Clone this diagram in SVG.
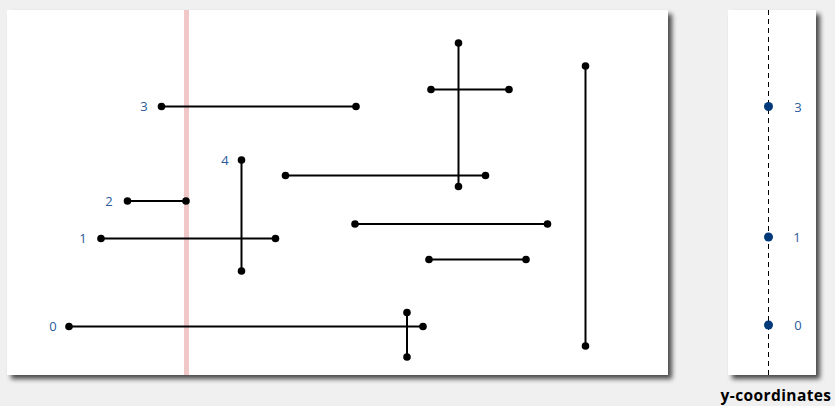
<svg xmlns="http://www.w3.org/2000/svg" width="835" height="406" viewBox="0 0 835 406">
<style>
.panel{fill:#ffffff}
.seg{stroke:#000;stroke-width:2;fill:none}
.pt{fill:#000}
.lbl{font-family:"Open Sans","Liberation Sans",sans-serif;font-size:13px;fill:#2a5b9b;text-anchor:middle}
.ydot{fill:#003a7a}
.cap{font-family:"Open Sans","Liberation Sans",sans-serif;font-size:15.5px;font-weight:bold;fill:#000;text-anchor:middle;letter-spacing:0.4px}
</style>
<defs>
<filter id="sh" x="-5%" y="-5%" width="115%" height="115%">
<feGaussianBlur in="SourceAlpha" stdDeviation="2.5"/>
<feOffset dx="4" dy="4" result="b"/>
<feComponentTransfer><feFuncA type="linear" slope="0.7"/></feComponentTransfer>
<feMerge><feMergeNode/><feMergeNode in="SourceGraphic"/></feMerge>
</filter>
</defs>
<rect x="0" y="0" width="835" height="406" fill="#f0f0f0"/>
<g id="left-panel">
<rect class="panel" x="7" y="10" width="661" height="365" filter="url(#sh)"/>
<rect x="184" y="10" width="5" height="365" fill="#f0c8c8"/>
</g>
<g id="right-panel">
<rect class="panel" x="728" y="10" width="88" height="365" filter="url(#sh)"/>
<line x1="768.5" y1="10" x2="768.5" y2="375" stroke="#000" stroke-width="1" stroke-dasharray="5,4"/>
</g>
<g id="connectors">
<line class="seg" x1="161.5" y1="106.5" x2="356" y2="106.5"/>
<line class="seg" x1="241.5" y1="160" x2="241.5" y2="271"/>
<line class="seg" x1="127.5" y1="201" x2="186" y2="201"/>
<line class="seg" x1="101" y1="238.5" x2="275.5" y2="238.5"/>
<line class="seg" x1="69" y1="326.5" x2="423" y2="326.5"/>
<line class="seg" x1="407" y1="312.5" x2="407" y2="357"/>
<line class="seg" x1="458.5" y1="43" x2="458.5" y2="186.5"/>
<line class="seg" x1="431" y1="89.5" x2="509" y2="89.5"/>
<line class="seg" x1="285.5" y1="175.5" x2="485.5" y2="175.5"/>
<line class="seg" x1="585.5" y1="66" x2="585.5" y2="346"/>
<line class="seg" x1="355" y1="224" x2="547.5" y2="224"/>
<line class="seg" x1="429" y1="259.5" x2="526" y2="259.5"/>
</g>
<g id="seg3"><circle class="pt" cx="161.5" cy="106.5" r="3.8"/><circle class="pt" cx="356" cy="106.5" r="3.8"/><text class="lbl" x="144" y="111">3</text></g>
<g id="seg4"><circle class="pt" cx="241.5" cy="160" r="3.8"/><circle class="pt" cx="241.5" cy="271" r="3.8"/><text class="lbl" x="225" y="165">4</text></g>
<g id="seg2"><circle class="pt" cx="127.5" cy="201" r="3.8"/><circle class="pt" cx="186" cy="201" r="3.8"/><text class="lbl" x="109" y="205.5">2</text></g>
<g id="seg1"><circle class="pt" cx="101" cy="238.5" r="3.8"/><circle class="pt" cx="275.5" cy="238.5" r="3.8"/><text class="lbl" x="83" y="243">1</text></g>
<g id="seg0"><circle class="pt" cx="69" cy="326.5" r="3.8"/><circle class="pt" cx="423" cy="326.5" r="3.8"/><text class="lbl" x="53" y="331">0</text></g>
<g id="segA"><circle class="pt" cx="407" cy="312.5" r="3.8"/><circle class="pt" cx="407" cy="357" r="3.8"/></g>
<g id="segB"><circle class="pt" cx="458.5" cy="43" r="3.8"/><circle class="pt" cx="458.5" cy="186.5" r="3.8"/></g>
<g id="segC"><circle class="pt" cx="431" cy="89.5" r="3.8"/><circle class="pt" cx="509" cy="89.5" r="3.8"/></g>
<g id="segD"><circle class="pt" cx="285.5" cy="175.5" r="3.8"/><circle class="pt" cx="485.5" cy="175.5" r="3.8"/></g>
<g id="segE"><circle class="pt" cx="585.5" cy="66" r="3.8"/><circle class="pt" cx="585.5" cy="346" r="3.8"/></g>
<g id="segF"><circle class="pt" cx="355" cy="224" r="3.8"/><circle class="pt" cx="547.5" cy="224" r="3.8"/></g>
<g id="segG"><circle class="pt" cx="429" cy="259.5" r="3.8"/><circle class="pt" cx="526" cy="259.5" r="3.8"/></g>
<g id="y3"><circle class="ydot" cx="768.5" cy="106.5" r="4.5"/><text class="lbl" x="798" y="111.5">3</text></g>
<g id="y1"><circle class="ydot" cx="768.5" cy="237" r="4.5"/><text class="lbl" x="797" y="241.5">1</text></g>
<g id="y0"><circle class="ydot" cx="768.5" cy="325" r="4.5"/><text class="lbl" x="798" y="329.5">0</text></g>
<text class="cap" x="776" y="401">y-coordinates</text>
</svg>
